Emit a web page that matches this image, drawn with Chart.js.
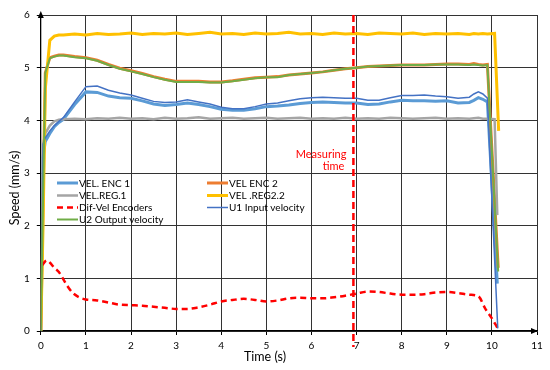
<!DOCTYPE html>
<html>
<head>
<meta charset="utf-8">
<script src="https://cdn.jsdelivr.net/npm/chart.js@4"></script>
<style>
  html, body { margin: 0; padding: 0; background: #fff; }
</style>
</head>
<body>
<canvas id="speedChart" width="550" height="370"></canvas>
<script>
// time base shared by the encoder / regulator / U1 / U2 series (s)
const timeBody = [
  0, 0.05, 0.1, 0.2, 0.3, 0.4, 0.5, 0.75, 1, 1.25, 1.5, 1.75, 2, 2.25, 2.5, 2.75,
  3, 3.25, 3.5, 3.75, 4, 4.25, 4.5, 4.75, 5, 5.25, 5.5, 5.75, 6, 6.25, 6.5, 6.75,
  7, 7.25, 7.5, 7.75, 8, 8.25, 8.5, 8.75, 9, 9.25, 9.5, 9.6, 9.7, 9.8, 9.9
];

const velEnc1 = [
  0, 3.3, 3.6, 3.75, 3.88, 3.96, 4.02, 4.3, 4.54, 4.53, 4.46, 4.43, 4.42, 4.37, 4.31, 4.28,
  4.3, 4.33, 4.3, 4.26, 4.21, 4.19, 4.19, 4.22, 4.26, 4.27, 4.29, 4.32, 4.34, 4.35, 4.34, 4.33,
  4.33, 4.3, 4.31, 4.35, 4.38, 4.37, 4.37, 4.36, 4.37, 4.33, 4.34, 4.38, 4.43, 4.4, 4.35
];
const velEnc1TailT = [10.0, 10.12];
const velEnc1TailV = [2.8, 0.9];

const velEnc2 = [
  0, 2.5, 4.9, 5.19, 5.22, 5.24, 5.24, 5.21, 5.19, 5.14, 5.06, 4.99, 4.94, 4.89, 4.83, 4.78,
  4.74, 4.74, 4.74, 4.73, 4.73, 4.75, 4.78, 4.81, 4.82, 4.83, 4.86, 4.88, 4.9, 4.92, 4.95, 4.98,
  5.0, 5.02, 5.03, 5.04, 5.05, 5.05, 5.05, 5.06, 5.07, 5.07, 5.06, 5.08, 5.06, 5.05, 5.06
];
const velEnc2TailT = [10.14];
const velEnc2TailV = [1.2];

const velReg1 = [
  0, 3.55, 3.75, 3.9, 3.98, 4.01, 4.02, 4.03, 4.02, 4.04, 4.03, 4.05, 4.03, 4.04, 4.02, 4.05,
  4.03, 4.04, 4.06, 4.03, 4.04, 4.05, 4.03, 4.04, 4.05, 4.03, 4.04, 4.05, 4.03, 4.04, 4.03, 4.05,
  4.03, 4.04, 4.03, 4.05, 4.04, 4.03, 4.04, 4.05, 4.03, 4.04, 4.03, 4.04, 4.05, 4.03, 4.03
];
const velReg1TailT = [10.06, 10.12];
const velReg1TailV = [4.02, 2.2];

const velReg22 = [
  0, 2.0, 4.6, 5.52, 5.6, 5.62, 5.62, 5.64, 5.62, 5.65, 5.63, 5.64, 5.66, 5.63, 5.65, 5.64,
  5.66, 5.63, 5.65, 5.67, 5.64, 5.65, 5.63, 5.66, 5.64, 5.65, 5.67, 5.64, 5.65, 5.63, 5.66, 5.64,
  5.65, 5.63, 5.66, 5.65, 5.64, 5.66, 5.63, 5.65, 5.64, 5.65, 5.63, 5.65, 5.64, 5.65, 5.64
];
const velReg22TailT = [10.06, 10.15];
const velReg22TailV = [5.65, 3.8];

const u1Input = [
  0, 3.55, 3.67, 3.8, 3.9, 3.98, 4.05, 4.35, 4.64, 4.65, 4.57, 4.52, 4.48, 4.42, 4.36, 4.34,
  4.35, 4.39, 4.35, 4.31, 4.25, 4.22, 4.22, 4.26, 4.31, 4.33, 4.37, 4.41, 4.43, 4.44, 4.43, 4.42,
  4.42, 4.38, 4.38, 4.43, 4.47, 4.47, 4.48, 4.46, 4.45, 4.42, 4.44, 4.5, 4.54, 4.5, 4.42
];
const u1TailT = [10.0, 10.13];
const u1TailV = [2.5, 0.05];

const u2Output = [
  0, 2.5, 4.9, 5.18, 5.21, 5.23, 5.23, 5.2, 5.18, 5.13, 5.05, 4.98, 4.93, 4.88, 4.82, 4.77,
  4.73, 4.73, 4.73, 4.72, 4.72, 4.74, 4.77, 4.8, 4.82, 4.82, 4.86, 4.88, 4.9, 4.92, 4.95, 4.98,
  5.0, 5.02, 5.03, 5.04, 5.05, 5.05, 5.05, 5.06, 5.06, 5.06, 5.05, 5.06, 5.05, 5.04, 5.05
];
const u2TailT = [10.14];
const u2TailV = [1.13];

// difference between encoders, own time base
const difTime = [
  0.03, 0.13, 0.2, 0.3, 0.4, 0.5, 0.6, 0.7, 0.85, 1.0, 1.25, 1.5, 1.75, 2.0, 2.25, 2.5,
  2.75, 3.0, 3.25, 3.5, 3.75, 4.0, 4.25, 4.5, 4.75, 5.0, 5.25, 5.5, 5.75, 6.0, 6.25, 6.5,
  6.75, 7.0, 7.25, 7.5, 7.75, 8.0, 8.25, 8.5, 8.75, 9.0, 9.25, 9.5, 9.7, 9.85, 10.0, 10.13
];
const difVel = [
  1.25, 1.34, 1.3, 1.2, 1.12, 0.98, 0.84, 0.73, 0.64, 0.6, 0.58, 0.54, 0.5, 0.49, 0.48, 0.46,
  0.44, 0.42, 0.42, 0.45, 0.5, 0.56, 0.59, 0.61, 0.59, 0.56, 0.58, 0.62, 0.63, 0.62, 0.62, 0.64,
  0.67, 0.71, 0.75, 0.74, 0.71, 0.69, 0.69, 0.7, 0.73, 0.74, 0.72, 0.69, 0.66, 0.43, 0.24, 0.05
];

const measuringTime = 6.93;

const xTicks = [0, 1, 2, 3, 4, 5, 6, 7, 8, 9, 10, 11];
const yTicks = [0, 1, 2, 3, 4, 5, 6];

function pts(ts, vs) {
  return ts.map((t, i) => ({ x: t, y: vs[i] }));
}
function series(vals, tailT, tailV) {
  return pts(timeBody.concat(tailT), vals.concat(tailV));
}

const FONT = "Lato, 'DejaVu Sans', sans-serif";

// legend drawn inside the plot, two columns like the original
const insideLegend = {
  id: "insideLegend",
  afterDatasetsDraw(chart) {
    const c = chart.ctx;
    const cols = [57, 207];
    const rowY = [183, 195.5, 207.5, 219.5];
    c.save();
    c.font = "10px " + FONT;
    c.textBaseline = "middle";
    c.fillStyle = "#000";
    chart.data.datasets.forEach((ds, i) => {
      const x = cols[i % 2];
      const y = rowY[Math.floor(i / 2)];
      c.strokeStyle = ds.borderColor;
      c.lineWidth = ds.borderWidth;
      c.setLineDash(ds.borderDash || []);
      c.beginPath();
      c.moveTo(x, y);
      c.lineTo(x + 21, y);
      c.stroke();
      c.setLineDash([]);
      c.fillText(ds.label, x + 22, y + 0.5);
    });
    c.restore();
  }
};

const decorations = {
  id: "decorations",
  afterDatasetsDraw(chart) {
    const c = chart.ctx;
    const a = chart.chartArea;
    const xs = chart.scales.x;
    c.save();
    // axis arrows
    c.fillStyle = "#000";
    c.beginPath();
    c.moveTo(a.left, a.top - 4);
    c.lineTo(a.left - 3, a.top + 3);
    c.lineTo(a.left + 3, a.top + 3);
    c.closePath();
    c.fill();
    c.beginPath();
    c.moveTo(a.right + 1, a.bottom);
    c.lineTo(a.right - 6, a.bottom - 3);
    c.lineTo(a.right - 6, a.bottom + 3);
    c.closePath();
    c.fill();
    // measuring time marker
    const mx = xs.getPixelForValue(measuringTime);
    c.strokeStyle = "#ff0000";
    c.lineWidth = 2.5;
    c.setLineDash([7, 4]);
    c.beginPath();
    c.moveTo(mx, a.top);
    c.lineTo(mx, a.bottom + 16);
    c.stroke();
    c.setLineDash([]);
    c.fillStyle = "#ff0000";
    c.font = "11px " + FONT;
    c.textAlign = "right";
    c.textBaseline = "middle";
    c.fillText("Measuring", mx - 7, 154);
    c.fillText("time", mx - 9, 166.5);
    // axis titles
    c.fillStyle = "#000";
    c.font = "12.5px " + FONT;
    c.textAlign = "center";
    c.fillText("Time (s)", 265, 357);
    c.translate(15, 188);
    c.rotate(-Math.PI / 2);
    c.fillText("Speed (mm/s)", 0, 0);
    c.restore();
  }
};

new Chart(document.getElementById("speedChart"), {
  type: "line",
  data: {
    datasets: [
      { label: "VEL. ENC 1", data: series(velEnc1, velEnc1TailT, velEnc1TailV),
        borderColor: "#5b9bd5", borderWidth: 3, order: 6 },
      { label: "VEL ENC 2", data: series(velEnc2, velEnc2TailT, velEnc2TailV),
        borderColor: "#ed7d31", borderWidth: 3, order: 5 },
      { label: "VEL.REG.1", data: series(velReg1, velReg1TailT, velReg1TailV),
        borderColor: "#a5a5a5", borderWidth: 2.5, order: 4 },
      { label: "VEL .REG2.2", data: series(velReg22, velReg22TailT, velReg22TailV),
        borderColor: "#ffc000", borderWidth: 3, order: 3 },
      { label: "Dif-Vel Encoders", data: pts(difTime, difVel),
        borderColor: "#ff0000", borderWidth: 2.5, borderDash: [6, 4],
        cubicInterpolationMode: "monotone", order: 2 },
      { label: "U1 Input velocity", data: series(u1Input, u1TailT, u1TailV),
        borderColor: "#4472c4", borderWidth: 1.5, order: 1 },
      { label: "U2 Output velocity", data: series(u2Output, u2TailT, u2TailV),
        borderColor: "#70ad47", borderWidth: 2, order: 0 }
    ]
  },
  options: {
    responsive: false,
    animation: false,
    devicePixelRatio: 1,
    elements: { point: { radius: 0 }, line: { tension: 0, fill: false } },
    layout: { padding: { left: 17, right: 13, top: 15, bottom: 13 } },
    plugins: {
      legend: { display: false },
      tooltip: { enabled: false }
    },
    scales: {
      x: {
        type: "linear",
        min: 0,
        max: 11,
        afterBuildTicks: (s) => { s.ticks = xTicks.map(v => ({ value: v })); },
        ticks: { font: { family: FONT, size: 10 }, color: "#000", padding: 5 },
        grid: { color: "#333", lineWidth: 1, tickLength: 4, tickColor: "#000" },
        border: { color: "#000", width: 1.3 }
      },
      y: {
        min: 0,
        max: 6,
        afterBuildTicks: (s) => { s.ticks = yTicks.map(v => ({ value: v })); },
        ticks: { font: { family: FONT, size: 10 }, color: "#000", padding: 7 },
        grid: { color: "#333", lineWidth: 1, tickLength: 4, tickColor: "#000" },
        border: { color: "#000", width: 1.3 }
      }
    }
  },
  plugins: [insideLegend, decorations]
});
</script>
</body>
</html>
